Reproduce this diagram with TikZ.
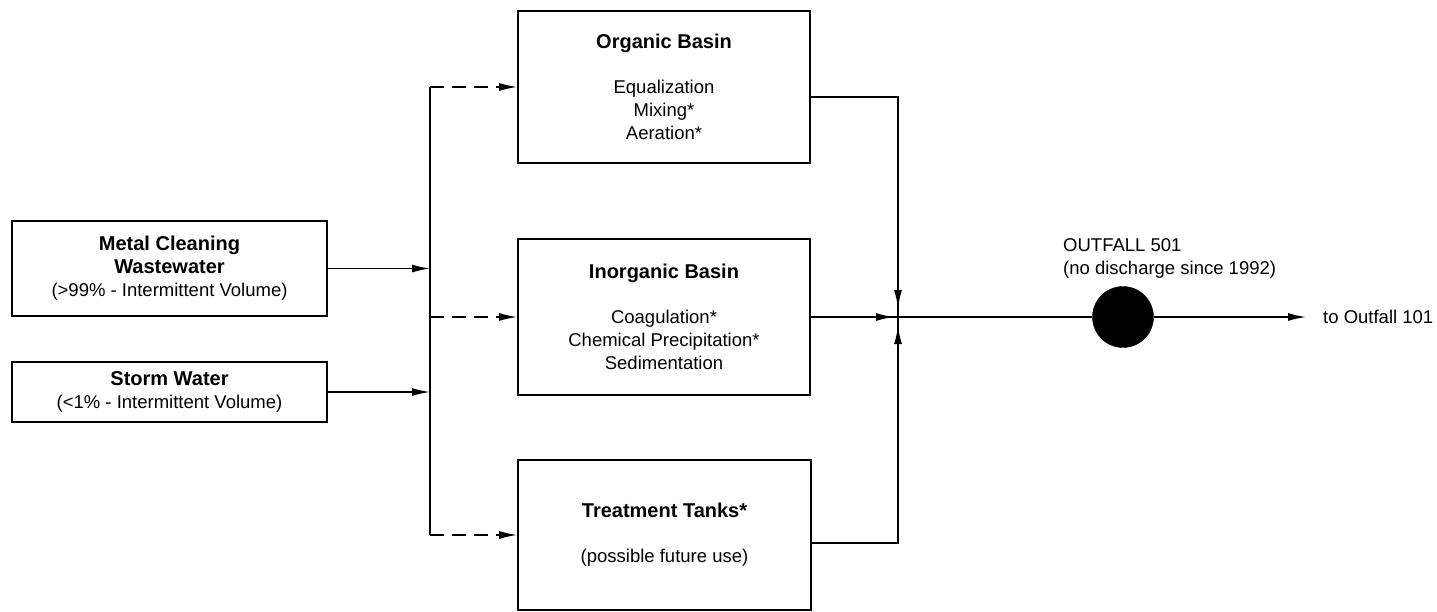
\documentclass[tikz,border=0pt]{standalone}
\usepackage{fontspec}
\setmainfont{Liberation Sans}
\usetikzlibrary{arrows.meta,decorations.markings}

\tikzset{
  tip/.tip={Latex[length=18pt,width=8pt]},
  conn/.style={line width=1.5pt},
  feed/.style={conn, dash pattern=on 14pt off 8pt},
  box/.style={draw, line width=1.6pt, inner sep=0pt, align=center,
              font=\fontsize{18.5}{23}\selectfont},
  lbl/.style={inner sep=0pt, align=left, font=\fontsize{18.5}{23}\selectfont},
  arrowat/.style={postaction=decorate,
    decoration={markings, mark=at position #1 with {\arrow{tip}}}},
}
\newcommand{\ttl}[1]{{\fontsize{20}{23}\selectfont\bfseries #1}}

\begin{document}
\begin{tikzpicture}[x=1pt,y=-1pt]
  \useasboundingbox (0,0) rectangle (1437,611);

  % sources
  \node[box, minimum width=315pt, minimum height=95pt] (metal) at (169.5,268.5)
    {\ttl{Metal Cleaning}\\\ttl{Wastewater}\\(>99\% - Intermittent Volume)};
  \node[box, minimum width=315pt, minimum height=60pt] (storm) at (169.5,392)
    {\ttl{Storm Water}\\(<1\% - Intermittent Volume)};

  % treatment units
  \node[box, minimum width=292pt, minimum height=152pt] (organic) at (664,87)
    {\ttl{Organic Basin}\\[22pt]Equalization\\Mixing*\\Aeration*};
  \node[box, minimum width=292pt, minimum height=156pt] (inorg) at (664,317)
    {\ttl{Inorganic Basin}\\[22pt]Coagulation*\\Chemical Precipitation*\\Sedimentation};
  \node[box, minimum width=293pt, minimum height=150pt] (treat) at (664.5,535)
    {\ttl{Treatment Tanks*}\\[22pt](possible future use)};

  % outfall
  \node[circle, fill=black, draw=black, minimum size=61pt, inner sep=0pt] (outfall) at (1123,317) {};
  \node[lbl, anchor=west] (outlbl) at (1063,258)
    {OUTFALL 501\\(no discharge since 1992)};
  \node[lbl, anchor=west, inner xsep=17pt] (dest) at (1306,317) {to Outfall 101};

  % distribution bus and junction
  \coordinate (bx) at (430,0);
  \coordinate (J) at (898,317);

  \draw[conn] (organic.west -| bx) -- (treat.west -| bx);
  \draw[conn, -tip] (metal.east) -- (metal.east -| bx);
  \draw[conn, -tip] (storm.east) -- (storm.east -| bx);

  \draw[feed, -tip] (organic.west -| bx) -- (organic.west);
  \draw[feed, -tip] (inorg.west -| bx) -- (inorg.west);
  \draw[feed, -tip] (treat.west -| bx) -- (treat.west);

  % collected flow
  \draw[conn, arrowat=-9pt] ([yshift=-10pt]organic.east) -| (J);
  \draw[conn, arrowat=-4pt] (inorg.east) -- (J);
  \draw[conn, arrowat=-9pt] ([yshift=-8pt]treat.east) -| (J);
  \draw[conn] (J) -- (outfall);
  \draw[conn, -tip] (outfall) -- (dest.west);
\end{tikzpicture}
\end{document}
